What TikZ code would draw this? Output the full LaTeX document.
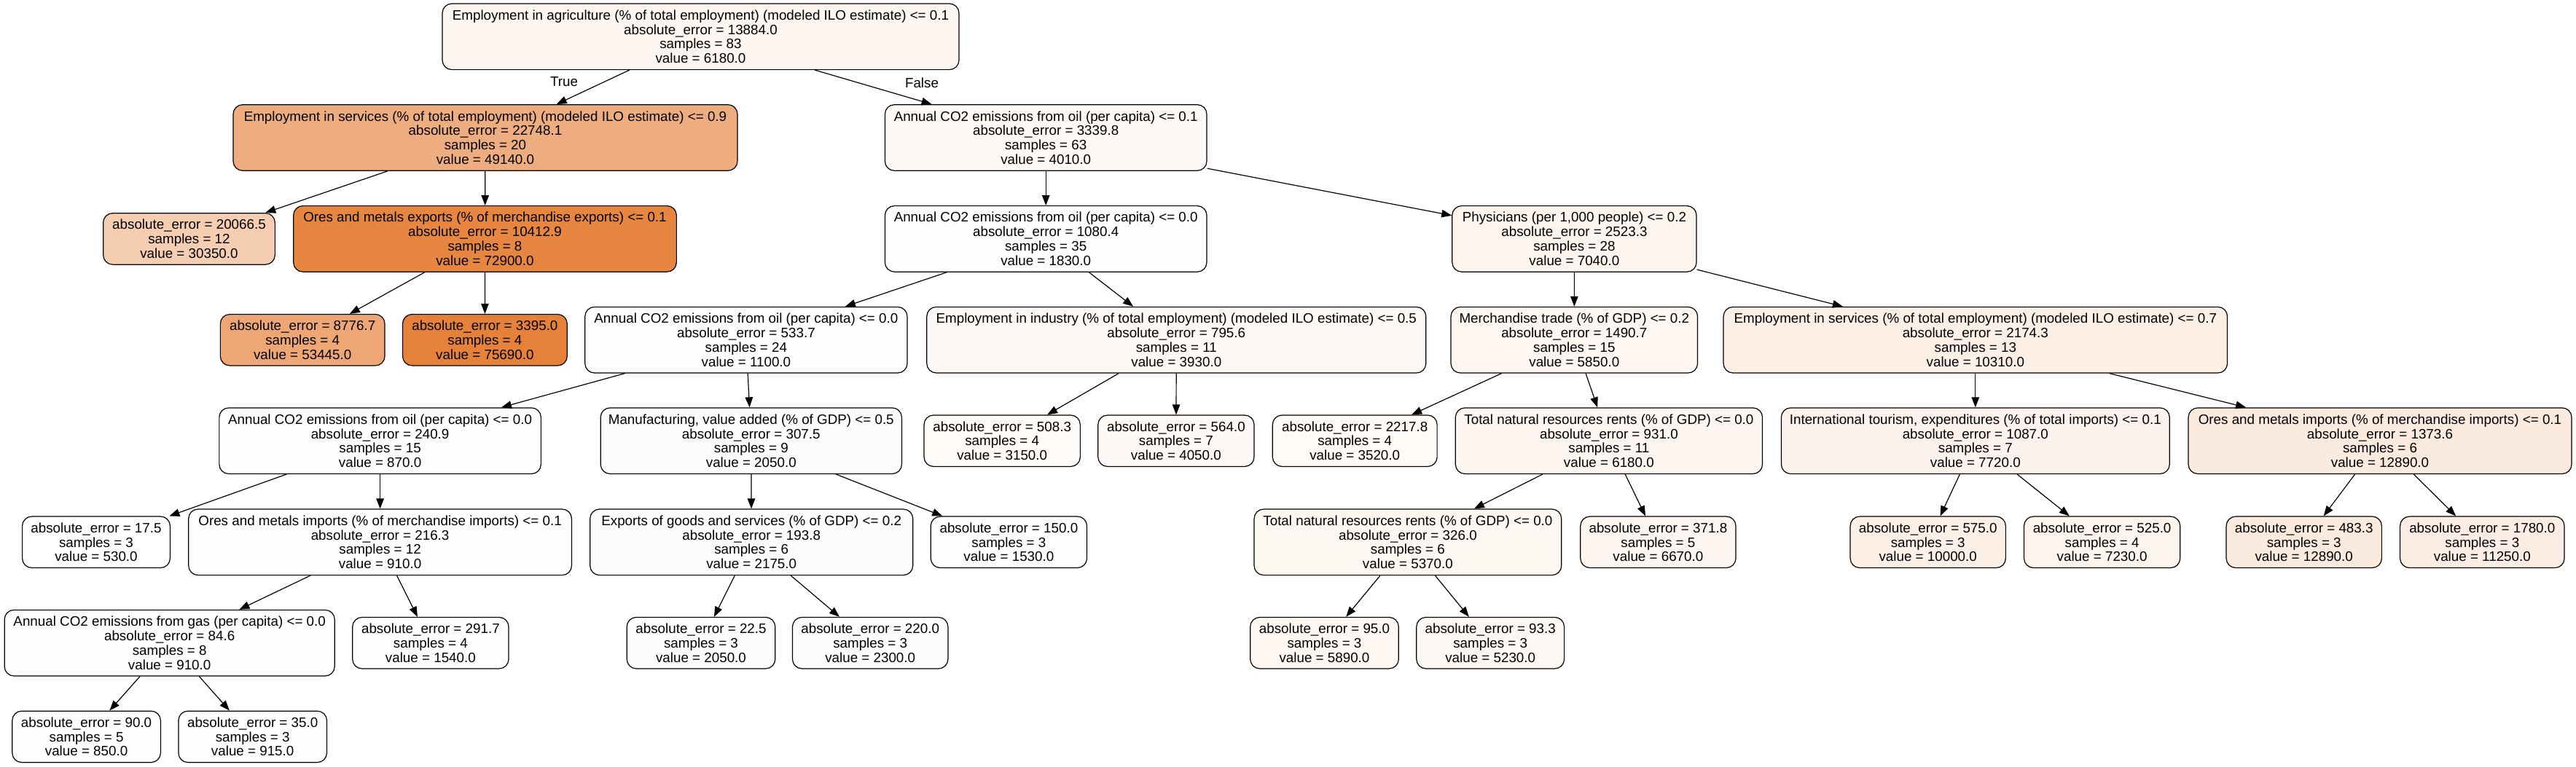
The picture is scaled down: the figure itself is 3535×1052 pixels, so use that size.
\documentclass[tikz,border=0pt]{standalone}
\usepackage{fontspec}
\setmainfont{Liberation Sans}
\usetikzlibrary{arrows.meta}
\definecolor{orn}{RGB}{229,129,57}
\newcommand{\lftxt}[3]{absolute\_error = #1\\samples = #2\\value = #3}
\newcommand{\intxt}[4]{#1\\absolute\_error = #2\\samples = #3\\value = #4}
\begin{document}
\begin{tikzpicture}[x=1pt,y=-1pt,
  box/.style={draw=black, rounded corners=13pt, inner sep=0pt, align=center, line width=1.2pt,
    font=\fontsize{18.8}{19.8}\selectfont},
  inn/.style={box, minimum height=90.6pt},
  lf/.style={box, minimum height=70.5pt},
  edge/.style={draw=black, line width=1.2pt, -{Triangle[length=14pt,width=10.5pt]}},
  lbl/.style={inner sep=0pt, font=\fontsize{18.8}{19.8}\selectfont}]
\useasboundingbox[fill=white] (0,0) rectangle (3535,1052);
% rank 0
\node[inn, fill=orn!7.52!white, minimum width=709pt] (n0) at (961.5,50.3) {\intxt{Employment in agriculture (\% of total employment) (modeled ILO estimate) <= 0.1}{13884.0}{83}{6180.0}};
% rank 1
\node[inn, fill=orn!64.68!white, minimum width=692pt] (n1) at (666,189) {\intxt{Employment in services (\% of total employment) (modeled ILO estimate) <= 0.9}{22748.1}{20}{49140.0}};
\node[inn, fill=orn!4.63!white, minimum width=441.6pt] (n2) at (1435.2,189) {\intxt{Annual CO2 emissions from oil (per capita) <= 0.1}{3339.8}{63}{4010.0}};
% rank 2
\node[lf, fill=orn!39.68!white, minimum width=235.7pt] (l1) at (259.5,327.9) {\lftxt{20066.5}{12}{30350.0}};
\node[inn, fill=orn!96.29!white, minimum width=525.7pt] (n1b) at (665.5,327.9) {\intxt{Ores and metals exports (\% of merchandise exports) <= 0.1}{10412.9}{8}{72900.0}};
\node[inn, fill=orn!1.73!white, minimum width=441.6pt] (n3) at (1435.2,327.9) {\intxt{Annual CO2 emissions from oil (per capita) <= 0.0}{1080.4}{35}{1830.0}};
\node[inn, fill=orn!8.66!white, minimum width=335.2pt] (n4) at (2160.4,327.9) {\intxt{Physicians (per 1,000 people) <= 0.2}{2523.3}{28}{7040.0}};
% rank 3
\node[lf, fill=orn!70.40!white, minimum width=225.7pt] (l2) at (415.2,466.7) {\lftxt{8776.7}{4}{53445.0}};
\node[lf, fill=orn, minimum width=225.8pt] (l3) at (665.4,466.7) {\lftxt{3395.0}{4}{75690.0}};
\node[inn, fill=orn!0.76!white, minimum width=442.2pt] (n5) at (1023.9,466.7) {\intxt{Annual CO2 emissions from oil (per capita) <= 0.0}{533.7}{24}{1100.0}};
\node[inn, fill=orn!4.52!white, minimum width=685pt] (n6) at (1614.3,466.7) {\intxt{Employment in industry (\% of total employment) (modeled ILO estimate) <= 0.5}{795.6}{11}{3930.0}};
\node[inn, fill=orn!7.08!white, minimum width=338.5pt] (n12) at (2160.3,466.7) {\intxt{Merchandise trade (\% of GDP) <= 0.2}{1490.7}{15}{5850.0}};
\node[inn, fill=orn!13.01!white, minimum width=691.5pt] (n13) at (2710.8,466.7) {\intxt{Employment in services (\% of total employment) (modeled ILO estimate) <= 0.7}{2174.3}{13}{10310.0}};
% rank 4
\node[inn, fill=orn!0.45!white, minimum width=441.5pt] (n7) at (521.6,605.2) {\intxt{Annual CO2 emissions from oil (per capita) <= 0.0}{240.9}{15}{870.0}};
\node[inn, fill=orn!2.02!white, minimum width=413.2pt] (n8) at (1030.8,605.2) {\intxt{Manufacturing, value added (\% of GDP) <= 0.5}{307.5}{9}{2050.0}};
\node[lf, fill=orn!3.49!white, minimum width=214.3pt] (l4) at (1375.2,605.2) {\lftxt{508.3}{4}{3150.0}};
\node[lf, fill=orn!4.68!white, minimum width=214.2pt] (l5) at (1613.9,605.2) {\lftxt{564.0}{7}{4050.0}};
\node[lf, fill=orn!3.98!white, minimum width=225.8pt] (l6) at (1859.2,605.2) {\lftxt{2217.8}{4}{3520.0}};
\node[inn, fill=orn!7.52!white, minimum width=421.2pt] (n14) at (2207.9,605.2) {\intxt{Total natural resources rents (\% of GDP) <= 0.0}{931.0}{11}{6180.0}};
\node[inn, fill=orn!9.57!white, minimum width=532.8pt] (n16) at (2710.8,605.2) {\intxt{International tourism, expenditures (\% of total imports) <= 0.1}{1087.0}{7}{7720.0}};
\node[inn, fill=orn!16.45!white, minimum width=526pt] (n17) at (3266,605.2) {\intxt{Ores and metals imports (\% of merchandise imports) <= 0.1}{1373.6}{6}{12890.0}};
% rank 5
\node[lf, fill=white, minimum width=202.8pt] (l7) at (132,744.3) {\lftxt{17.5}{3}{530.0}};
\node[inn, fill=orn!0.51!white, minimum width=525.7pt] (n9) at (521.6,744.3) {\intxt{Ores and metals imports (\% of merchandise imports) <= 0.1}{216.3}{12}{910.0}};
\node[inn, fill=orn!2.19!white, minimum width=443pt] (n11) at (1031.2,744.3) {\intxt{Exports of goods and services (\% of GDP) <= 0.2}{193.8}{6}{2175.0}};
\node[lf, fill=orn!1.33!white, minimum width=214.3pt] (l8) at (1384.4,744.3) {\lftxt{150.0}{3}{1530.0}};
\node[inn, fill=orn!6.44!white, minimum width=421.7pt] (n15) at (1931.9,744.3) {\intxt{Total natural resources rents (\% of GDP) <= 0.0}{326.0}{6}{5370.0}};
\node[lf, fill=orn!8.17!white, minimum width=213.2pt] (l9) at (2275.4,744.3) {\lftxt{371.8}{5}{6670.0}};
\node[lf, fill=orn!12.60!white, minimum width=213.3pt] (l10) at (2645.7,744.3) {\lftxt{575.0}{3}{10000.0}};
\node[lf, fill=orn!8.91!white, minimum width=214.2pt] (l11) at (2884.6,744.3) {\lftxt{525.0}{4}{7230.0}};
\node[lf, fill=orn!16.45!white, minimum width=213.3pt] (l12) at (3161.7,744.3) {\lftxt{483.3}{3}{12890.0}};
\node[lf, fill=orn!14.26!white, minimum width=225.5pt] (l13) at (3406.3,744.3) {\lftxt{1780.0}{3}{11250.0}};
% rank 6
\node[inn, fill=orn!0.51!white, minimum width=453.1pt] (n10) at (232.7,882.7) {\intxt{Annual CO2 emissions from gas (per capita) <= 0.0}{84.6}{8}{910.0}};
\node[lf, fill=orn!1.34!white, minimum width=214.3pt] (l14) at (590.9,882.7) {\lftxt{291.7}{4}{1540.0}};
\node[lf, fill=orn!2.02!white, minimum width=203.6pt] (l15) at (962,882.7) {\lftxt{22.5}{3}{2050.0}};
\node[lf, fill=orn!2.35!white, minimum width=213.4pt] (l16) at (1194.2,882.7) {\lftxt{220.0}{3}{2300.0}};
\node[lf, fill=orn!7.13!white, minimum width=203.6pt] (l17) at (1817.5,882.7) {\lftxt{95.0}{3}{5890.0}};
\node[lf, fill=orn!6.25!white, minimum width=202.8pt] (l18) at (2045.2,882.7) {\lftxt{93.3}{3}{5230.0}};
% rank 7
\node[lf, fill=orn!0.43!white, minimum width=203.6pt] (l19) at (118.6,1011.4) {\lftxt{90.0}{5}{850.0}};
\node[lf, fill=orn!0.51!white, minimum width=203.6pt] (l20) at (346.7,1011.4) {\lftxt{35.0}{3}{915.0}};
% labels
\node[lbl] (tlab) at (774,112) {True};
\node[lbl] (flab) at (1265,114) {False};
% edges
\foreach \a/\b in {n0/n1,n0/n2,n1/l1,n1/n1b,n1b/l2,n1b/l3,n2/n3,n2/n4,n3/n5,n3/n6,
  n5/n7,n5/n8,n7/l7,n7/n9,n9/n10,n9/l14,n10/l19,n10/l20,n8/n11,n8/l8,n11/l15,n11/l16,
  n6/l4,n6/l5,n4/n12,n4/n13,n12/l6,n12/n14,n14/n15,n14/l9,n15/l17,n15/l18,
  n13/n16,n13/n17,n16/l10,n16/l11,n17/l12,n17/l13}
  \draw[edge] (\a) -- (\b);
\end{tikzpicture}
\end{document}
